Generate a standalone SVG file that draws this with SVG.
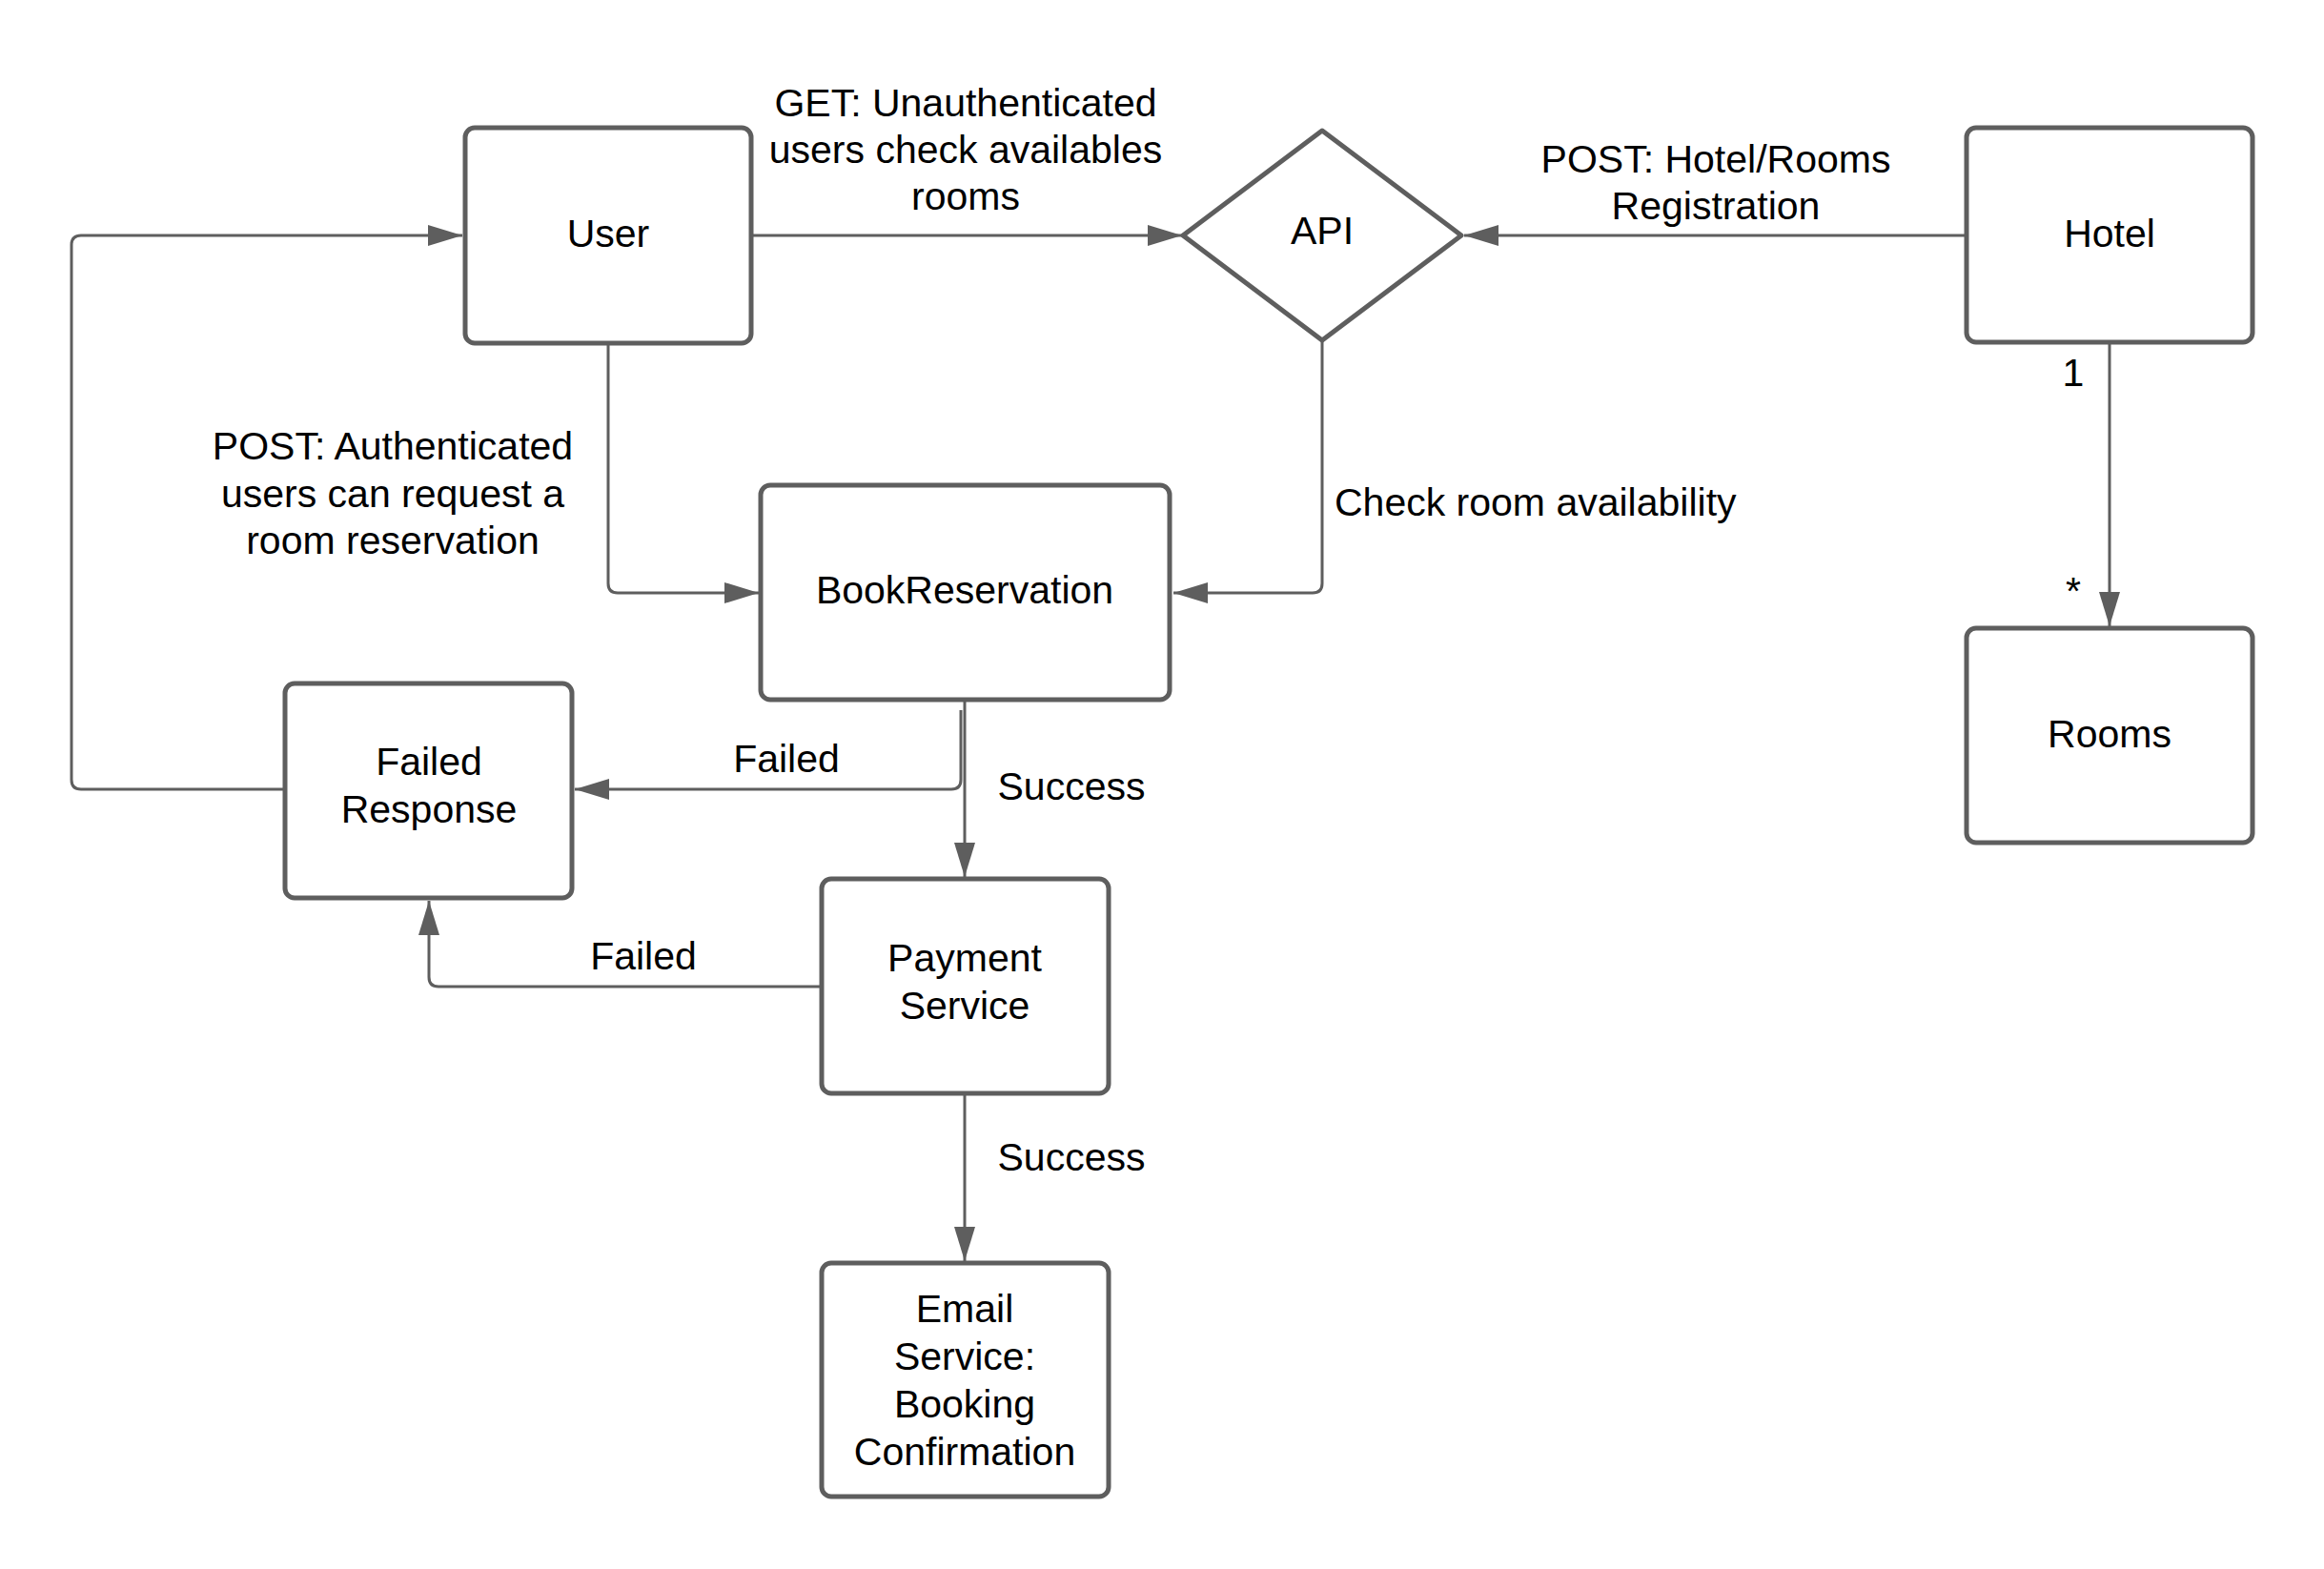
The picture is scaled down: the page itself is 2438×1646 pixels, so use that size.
<svg xmlns="http://www.w3.org/2000/svg" width="2438" height="1646" viewBox="0 0 2438 1646">
<style>
.box{fill:#ffffff;stroke:#5e5e5e;stroke-width:5}
.conn{fill:none;stroke:#5e5e5e;stroke-width:3}
text{font-family:"Liberation Sans",Arial,sans-serif;font-size:41px;fill:#000000;text-anchor:middle}
.start{text-anchor:start}
</style>
<defs>
<marker id="arr" markerUnits="userSpaceOnUse" markerWidth="37" markerHeight="24" refX="36" refY="11" orient="auto">
<path d="M0,0 L36,11 L0,22 z" fill="#5e5e5e"/>
</marker>
</defs>
<rect width="2438" height="1646" fill="#ffffff"/>
<g id="connectors">
<path class="conn" marker-end="url(#arr)" d="M788,247 H1240"/>
<path class="conn" marker-end="url(#arr)" d="M2063,247 H1536"/>
<path class="conn" marker-end="url(#arr)" d="M1387,357 V612 Q1387,622 1377,622 H1231"/>
<path class="conn" marker-end="url(#arr)" d="M638,361 V612 Q638,622 648,622 H796"/>
<path class="conn" marker-end="url(#arr)" d="M299,828 H85 Q75,828 75,818 V257 Q75,247 85,247 H485"/>
<path class="conn" marker-end="url(#arr)" d="M1008,745 V818 Q1008,828 998,828 H603"/>
<path class="conn" marker-end="url(#arr)" d="M1012,734 V920"/>
<path class="conn" marker-end="url(#arr)" d="M861,1035 H460 Q450,1035 450,1025 V945"/>
<path class="conn" marker-end="url(#arr)" d="M1012,1147 V1323"/>
<path class="conn" marker-end="url(#arr)" d="M2213,359 V657"/>
<text x="1013" y="122">GET: Unauthenticated</text>
<text x="1013" y="171">users check availables</text>
<text x="1013" y="220">rooms</text>
<text x="1800" y="181">POST: Hotel/Rooms</text>
<text x="1800" y="230">Registration</text>
<text class="start" x="1400" y="541">Check room availability</text>
<text x="412" y="482">POST: Authenticated</text>
<text x="412" y="532">users can request a</text>
<text x="412" y="581">room reservation</text>
<text x="825" y="810">Failed</text>
<text x="1124" y="839">Success</text>
<text x="675" y="1017">Failed</text>
<text x="1124" y="1228">Success</text>
<text x="2175" y="405">1</text>
<text x="2175" y="634">*</text>
</g>
<g id="user">
<rect class="box" x="488" y="134" width="300" height="226" rx="10"/>
<text x="638" y="259">User</text>
</g>
<g id="api">
<path class="box" stroke-linejoin="round" d="M1387,137 L1533,247 L1387,357 L1241,247 Z"/>
<text x="1387" y="256">API</text>
</g>
<g id="hotel">
<rect class="box" x="2063" y="134" width="300" height="225" rx="10"/>
<text x="2213" y="259">Hotel</text>
</g>
<g id="rooms">
<rect class="box" x="2063" y="659" width="300" height="225" rx="10"/>
<text x="2213" y="784">Rooms</text>
</g>
<g id="bookreservation">
<rect class="box" x="798" y="509" width="429" height="225" rx="10"/>
<text x="1012" y="633">BookReservation</text>
</g>
<g id="failed-response">
<rect class="box" x="299" y="717" width="301" height="225" rx="10"/>
<text x="450" y="813">Failed</text>
<text x="450" y="863">Response</text>
</g>
<g id="payment-service">
<rect class="box" x="862" y="922" width="301" height="225" rx="10"/>
<text x="1012" y="1019">Payment</text>
<text x="1012" y="1069">Service</text>
</g>
<g id="email-service">
<rect class="box" x="862" y="1325" width="301" height="245" rx="10"/>
<text x="1012" y="1387">Email</text>
<text x="1012" y="1437">Service:</text>
<text x="1012" y="1487">Booking</text>
<text x="1012" y="1537">Confirmation</text>
</g>
</svg>
